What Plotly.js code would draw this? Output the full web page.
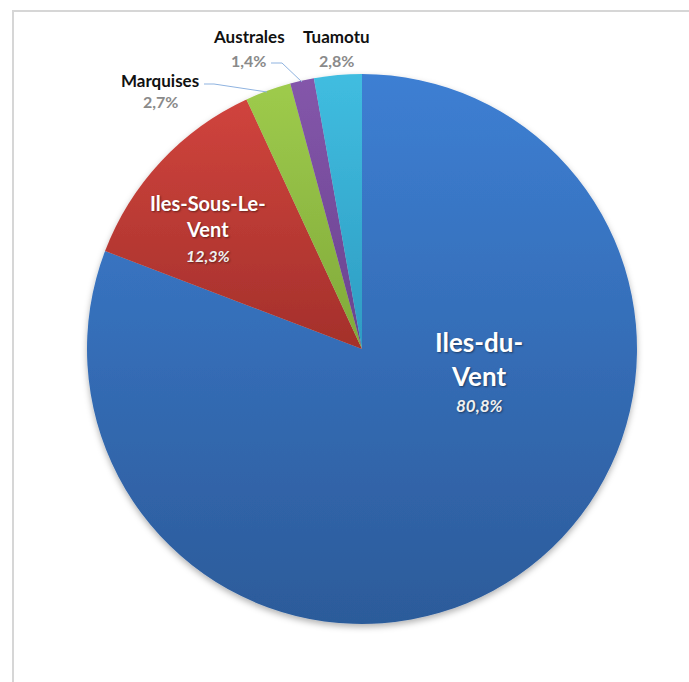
<!DOCTYPE html>
<html>
<head>
<meta charset="utf-8">
<script src="https://cdn.plot.ly/plotly-3.0.1.min.js"></script>
<style>
  html, body { margin: 0; padding: 0; background: #fff; }
  #chart { width: 689px; height: 682px; position: absolute; left: 0; top: 0; }
  #frame { position: absolute; left: 12px; top: 10px; width: 677px; height: 672px;
           border-top: 2px solid #d6d6d6; border-left: 2px solid #d6d6d6; pointer-events: none; box-sizing: border-box; }
</style>
</head>
<body>
<div id="chart"></div>
<div id="frame"></div>
<script>
// ---- Data ----
const categories = ["Iles-du-Vent", "Iles-Sous-Le-Vent", "Marquises", "Australes", "Tuamotu"];
const values = [80.8, 12.3, 2.7, 1.4, 2.8];
const percentLabels = ["80,8%", "12,3%", "2,7%", "1,4%", "2,8%"];
const nameLabels = ["Iles-du-<br>Vent", "Iles-Sous-Le-<br>Vent", "Marquises", "Australes", "Tuamotu"];

// ---- Styles ----
const W = 689, H = 682;
const colorsTop = ["#3d7fd3", "#d0443d", "#9ecb4c", "#8456aa", "#40bde0"];
const colorsBottom = ["#2c5b9a", "#a4302b", "#80a93a", "#69438f", "#2e9cc2"];
const baseColors = ["#3570bf", "#c03a34", "#90bb44", "#774d9e", "#37aed2"];
const font = "Lato, 'Open Sans', sans-serif";
const px = x => x / W, py = y => 1 - y / H;

// label placement (pixel positions in the figure)
const labelPos = [
  {name: [479, 359], pct: [479, 405], nameSize: 26, pctSize: 17, inside: true},
  {name: [208, 216], pct: [208, 255], nameSize: 20, pctSize: 16, inside: true},
  {name: [160, 80], pct: [160, 102], nameSize: 17, pctSize: 16, inside: false},
  {name: [249, 37], pct: [248, 60], nameSize: 17, pctSize: 16, inside: false},
  {name: [336, 37], pct: [336, 60], nameSize: 17, pctSize: 16, inside: false}
];

const annotations = [];
categories.forEach((c, i) => {
  const p = labelPos[i];
  annotations.push({
    x: px(p.name[0]), y: py(p.name[1]), xref: "paper", yref: "paper",
    text: "<b>" + nameLabels[i] + "</b>", showarrow: false,
    xanchor: "center", yanchor: "middle",
    font: {family: font, size: p.nameSize, color: p.inside ? "#ffffff" : "#111111"}
  });
  annotations.push({
    x: px(p.pct[0]), y: py(p.pct[1]), xref: "paper", yref: "paper",
    text: p.inside ? "<b><i>" + percentLabels[i] + "</i></b>" : "<b>" + percentLabels[i] + "</b>",
    showarrow: false, xanchor: "center", yanchor: "middle",
    font: {family: font, size: p.pctSize, color: p.inside ? "#f0f0f0" : "#8a8a8a"}
  });
});

// leader lines for outside labels
const leader = pts => ({
  type: "path", xref: "paper", yref: "paper",
  path: pts.map((q, k) => (k ? "L" : "M") + px(q[0]) + "," + py(q[1])).join(" "),
  line: {color: "#8fb3e0", width: 1}
});
const shapes = [
  leader([[204, 84], [214, 84], [267, 92]]),
  leader([[271, 63], [282, 63], [302, 82]])
];

const cx = 362, cy = 349, r = 275;
const trace = {
  type: "pie",
  labels: categories,
  values: values,
  sort: false,
  direction: "clockwise",
  rotation: 0,
  textinfo: "none",
  hoverinfo: "label+percent",
  marker: {colors: baseColors, line: {width: 0}},
  domain: {x: [px(cx - r), px(cx + r)], y: [py(cy + r), py(cy - r)]},
  showlegend: false
};

const layout = {
  width: W, height: H,
  margin: {l: 0, r: 0, t: 0, b: 0},
  paper_bgcolor: "#ffffff",
  showlegend: false,
  annotations: annotations,
  shapes: shapes
};

Plotly.newPlot("chart", [trace], layout, {displayModeBar: false, staticPlot: true}).then(gd => {
  const svgNS = "http://www.w3.org/2000/svg";
  const svg = gd.querySelector(".main-svg");
  let defs = svg.querySelector("defs");
  if (!defs) { defs = document.createElementNS(svgNS, "defs"); svg.insertBefore(defs, svg.firstChild); }
  colorsTop.forEach((ct, i) => {
    const g = document.createElementNS(svgNS, "linearGradient");
    g.setAttribute("id", "sliceGrad" + i);
    g.setAttribute("x1", "0"); g.setAttribute("y1", "0");
    g.setAttribute("x2", "0"); g.setAttribute("y2", "1");
    [[0, ct], [1, colorsBottom[i]]].forEach(([o, col]) => {
      const s = document.createElementNS(svgNS, "stop");
      s.setAttribute("offset", o); s.setAttribute("stop-color", col);
      g.appendChild(s);
    });
    defs.appendChild(g);
  });
  const f = document.createElementNS(svgNS, "filter");
  f.setAttribute("id", "pieShadow");
  f.setAttribute("x", "-10%"); f.setAttribute("y", "-10%");
  f.setAttribute("width", "120%"); f.setAttribute("height", "120%");
  const ds = document.createElementNS(svgNS, "feDropShadow");
  ds.setAttribute("dx", "0"); ds.setAttribute("dy", "3");
  ds.setAttribute("stdDeviation", "3"); ds.setAttribute("flood-color", "#000");
  ds.setAttribute("flood-opacity", "0.3");
  f.appendChild(ds);
  defs.appendChild(f);
  gd.querySelectorAll(".pielayer .slice path.surface").forEach((p, i) => {
    p.style.fill = "url(#sliceGrad" + i + ")";
  });
  const tr = gd.querySelector(".pielayer .trace");
  if (tr) tr.setAttribute("filter", "url(#pieShadow)");
  gd.querySelectorAll(".annotation-text").forEach(t => {
    if (t.style.fill === "rgb(255, 255, 255)" || t.style.fill === "rgb(240, 240, 240)") {
      t.style.textShadow = "1px 1px 2px rgba(0,0,0,0.45)";
    }
  });
});
</script>
</body>
</html>
